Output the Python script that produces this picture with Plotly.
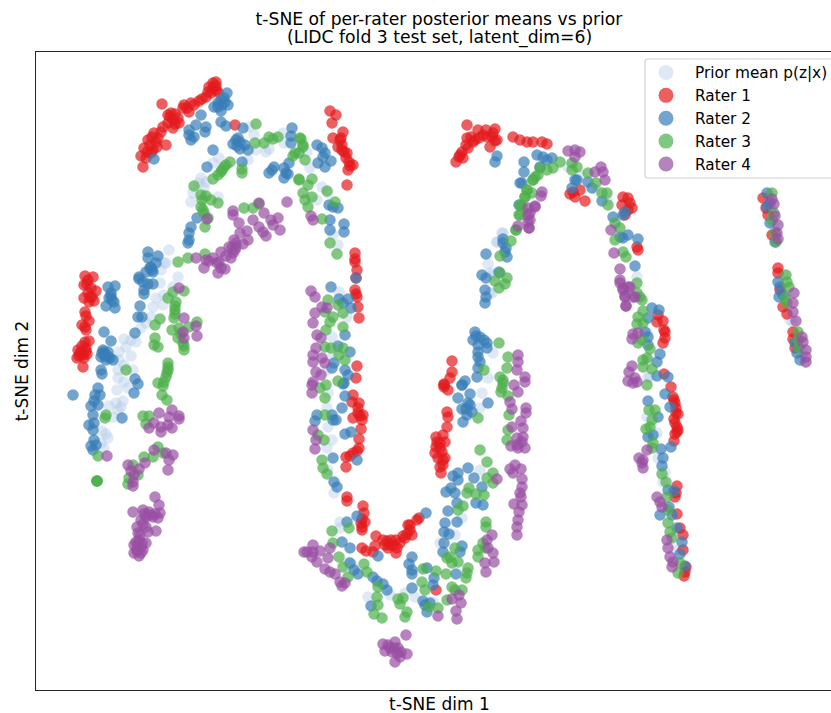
import plotly.graph_objects as go

# Values; the t-SNE axes carry no ticks, so the units are arbitrary.
prior = [(166,263),(161,270),(160,283),(178,277),(173,287),(164,295),(156,298),(153,307),(163,305),(151,317),(146,323),(141,328),(136,342),(131,340),(124,339),(126,347),(119,352),(131,356),(119,360),(124,365),(118,370),(133,370),(118,378),(124,382),(117,390),(128,388),(123,401),(116,403),(109,406),(121,407),(118,410),(113,417),(102,431),(108,438),(106,434),(104,448),(101,443),
(169,250),(164,263),(219,158),(213,163),(201,178),(206,182),(204,188),(193,193),(218,197),(191,202),(249,127),(254,135),(256,150),(266,152),(269,149),(248,160),(283,133),(284,143),(199,183),
(310,168),(307,152),(322,187),(317,200),(328,193),(333,235),(338,245),(339,292),(347,317),(332,337),(333,355),(327,370),(503,233),(497,242),(488,264),(492,293),(493,353),(488,378),(490,273),
(328,393),(327,408),(328,427),(332,440),(327,448),(328,470),(334,493),(340,522),(340,528),(348,562),(368,597),(390,595),(405,593),(415,597),(433,602),(482,393),(480,408),(480,470),(440,543),(455,535),(462,518),(352,565),(425,568),
(502,233),(497,242),(492,275),(490,293),(568,167),(580,175),(597,190),(607,200),(617,225),(637,277),(647,333),(648,360),(650,377),(648,377),(647,417),(657,433),(658,458),(665,472),(663,482),(675,550),
(768,196),(772,210),(774,225),(776,240),(784,275),(786,295),(790,320),(793,322),(797,335),(802,350),(805,362)]

rater1 = [(143,167),(141,156),(146,158),(151,153),(144,148),(153,150),(148,140),(156,142),(166,145),(154,133),(161,132),(158,138),(168,123),(173,120),(179,123),(173,128),(171,113),(178,118),(184,105),(189,112),(183,108),(194,105),(199,101),(206,97),(211,93),(216,90),(213,83),(216,82),(162,104),(235,125),(209,87),(218,92),
(150,145),(147,152),(157,147),(152,137),(163,127),(170,117),(175,124),(168,115),(175,114),(187,108),(191,103),(202,99),(208,92),(213,88),(216,86),
(85,276),(93,277),(88,280),(84,285),(91,288),(96,291),(88,293),(84,298),(94,301),(89,302),(85,312),(89,321),(82,325),(86,330),(85,342),(89,341),(78,350),(86,348),(83,355),(77,358),(84,358),(83,367),(81,352),
(87,284),(90,297),(92,297),(86,316),(85,327),(82,346),(80,354),(87,354),(79,356),(86,351),
(330,111),(336,115),(332,123),(333,138),(343,132),(340,140),(342,145),(338,147),(347,153),(349,162),(353,165),(348,170),(347,185),(355,253),(355,259),(357,270),(356,278),(355,290),(357,297),(358,307),(359,318),(357,366),(356,378),
(342,150),(344,152),(346,158),(350,166),(341,138),(355,262),(356,294),
(452,361),(452,372),(450,378),(444,384),(467,125),(478,130),(495,129),(467,138),(475,140),(483,135),(492,137),(497,140),(490,147),(468,148),(462,152),(463,158),(456,162),(460,155),
(471,137),(479,138),(487,137),(493,133),(466,145),(459,157),(486,130),(495,141),(473,142),(444,387),
(513,137),(520,140),(527,142),(533,142),(542,142),(547,144),(570,194),(575,197),(580,190),(585,201),(573,192),(623,197),(628,198),(630,203),(632,208),(622,205),(628,210),(625,215),(637,247),(638,250),
(658,315),(657,322),(663,321),(664,330),(665,332),(665,338),(663,343),(664,374),(671,387),(673,397),(675,403),(676,413),(678,414),(674,419),(677,427),(677,432),(675,434),(674,441),(677,486),(676,493),(675,497),(677,514),(680,528),(683,535),(683,550),(686,567),(685,572),(684,576),
(676,408),(675,423),(674,400),(678,430),
(763,198),(766,208),(768,215),(772,235),(778,268),(778,273),(783,307),(787,314),(780,290),(793,332),(793,339),(795,348),
(353,395),(352,402),(359,403),(358,413),(363,415),(353,418),(362,420),(361,429),(359,439),(359,448),(353,453),(346,457),(346,467),(347,497),(347,501),(363,506),(364,513),(365,522),(362,527),(362,530),
(358,408),(360,416),(357,451),(350,456),(362,519),(361,523),
(376,536),(383,540),(390,545),(396,540),(400,543),(405,538),(410,530),(412,535),(419,518),(375,546),(362,548),(366,551),(373,552),(396,553),(388,548),(408,525),(436,590),
(385,545),(393,545),(403,536),(407,534),(410,525),(387,541),(391,540),(397,548),(417,520),
(444,385),(448,390),(447,412),(448,417),(447,427),(436,437),(443,435),(445,442),(440,448),(435,453),(438,458),(445,458),(440,467),(443,465),(441,473),
(437,442),(440,443),(442,452),(436,447),(443,460)]

rater2 = [(154,159),(227,93),(221,100),(228,105),(214,107),(221,111),(218,103),(224,98),(201,115),(196,125),(206,127),(205,132),(189,130),(191,140),(194,137),(189,135),(221,122),(226,126),(243,128),(238,138),(233,144),(240,149),(245,145),(248,150),(236,140),(213,150),(207,167),(242,162),
(222,105),(218,107),(225,102),(240,142),(237,146),
(274,167),(269,173),(272,170),(284,168),(289,163),(288,174),(284,178),(286,173),(292,128),(291,136),(291,143),(197,218),(191,227),(189,233),(189,240),(188,243),(148,252),(148,258),(158,256),(156,263),(151,267),(153,272),(146,272),(139,277),
(108,287),(115,286),(111,293),(109,298),(114,302),(106,306),(115,308),(139,279),(143,282),(148,284),(153,284),(144,290),(144,294),(140,306),(138,317),(142,317),(135,333),(104,332),(111,341),(103,350),(104,355),(106,360),(113,360),(101,357),(108,357),(101,370),(102,374),(135,379),(138,384),(134,393),(73,395),
(104,352),(108,352),(102,353),(106,355),(110,358),(111,296),(112,300),(150,268),(152,270),
(98,388),(95,395),(100,395),(94,401),(98,405),(91,406),(93,415),(94,423),(89,425),(93,430),(94,440),(91,446),(96,445),(93,450),(122,418),
(317,145),(322,148),(325,153),(318,163),(331,161),(325,167),(323,157),(329,205),(333,207),(338,208),(330,220),(330,230),(344,224),(344,232),(331,287),(339,299),(348,299),(343,303),(351,308),(345,335),(338,346),(350,352),(334,363),(332,368),(345,370),(348,375),(344,383),(356,278),
(497,156),(495,162),(486,254),(503,239),(505,252),(507,257),(482,275),(486,278),(499,272),(485,290),(486,297),(485,303),(475,332),(473,340),(480,337),(487,343),(487,348),(478,357),(478,368),(477,377),(465,381),(462,385),
(476,336),(478,345),(480,362),(478,352),(484,340),(503,243),(506,248),
(343,384),(345,396),(342,408),(317,415),(315,421),(332,415),(333,420),(336,420),(345,434),(351,432),(333,458),(357,460),(334,482),(337,487),(357,516),(347,522),(342,542),(350,548),(350,563),(354,570),(358,574),(378,556),(373,577),(377,581),(383,584),(387,590),(371,606),(426,513),
(412,557),(409,564),(412,570),(412,574),(427,568),(434,578),(433,585),(412,588),(423,601),(425,605),(427,612),(430,603),(456,574),(462,385),(458,398),(470,394),(488,403),(470,405),(462,409),(472,412),(467,415),(463,422),(468,403),(466,409),
(468,468),(458,473),(453,476),(458,480),(474,478),(451,488),(446,492),(455,493),(457,503),(448,511),(457,522),(445,523),(444,532),(449,534),(444,543),(462,546),(443,552),(460,552),(482,487),(476,503),(483,505),
(537,155),(543,157),(552,158),(547,160),(524,162),(524,172),(520,183),(522,183),(519,205),(540,167),(577,180),(575,180),(588,182),(592,188),(572,188),(602,201),(613,217),(623,215),(625,212),(620,237),(628,235),(623,238),(638,239),(635,266),
(652,308),(659,310),(648,318),(645,332),(648,337),(648,345),(660,354),(657,362),(657,376),(668,377),(665,394),(670,407),(648,401),(658,417),(648,437),(653,435),(671,447),(661,449),(663,458),(662,466),(668,490),(674,491),(669,507),(660,515),(672,515),(677,528),(682,542),(680,554),(685,566),
(767,193),(767,207),(770,223),(775,242),(770,203),(778,282),(780,287),(779,297),(783,295),(795,343),(797,353),(800,360)]

rater3 = [(256,124),(255,143),(264,143),(269,137),(273,139),(278,137),(230,162),(224,167),(221,172),(218,175),(213,179),(242,169),(242,173),(194,186),(201,195),(206,196),(211,200),(218,203),(201,207),(204,213),(208,218),(205,227),(244,208),(253,208),(259,204),(299,180),(293,156),(299,153),(301,139),(303,147),(178,262),(188,258),(205,254),
(226,165),(222,170),(202,200),(203,210),
(184,291),(173,292),(168,298),(176,302),(175,310),(174,318),(160,319),(155,325),(172,330),(179,328),(189,327),(197,322),(178,338),(184,346),(184,350),(155,338),(154,345),(158,347),(168,363),(168,370),(166,377),(158,383),(163,386),(162,395),(167,400),(126,370),(106,415),(105,418),(143,416),(149,416),(146,424),(98,456),(97,481),(158,447),(153,457),(144,457),(163,453),(133,465),(138,475),(129,478),(128,484),
(175,306),(175,314),(168,367),(167,373),(164,382),(97,481),(97,481),(181,334),(183,343),
(300,138),(303,145),(295,153),(305,160),(299,179),(312,179),(308,185),(303,193),(312,197),(305,200),(308,207),(322,219),(327,191),(335,202),(330,243),(337,254),(328,300),(338,305),(325,312),(333,317),(343,313),(330,322),(343,327),(326,330),(325,347),(331,348),(343,348),(339,355),(345,360),(338,381),(326,385),(320,388),
(499,343),(484,370),(508,357),(507,368),(500,377),(503,380),(502,388),(511,241),(500,256),(495,281),(500,273),(507,278),(505,284),(499,288),(527,190),(525,197),(520,205),(533,180),(538,175),(520,215),(516,230),
(325,398),(325,415),(318,435),(324,440),(322,460),(323,468),(327,474),(332,531),(349,528),(333,543),(339,557),(343,567),(348,577),(364,564),(367,572),(378,587),(377,597),(378,605),(374,614),(382,618),(398,599),(403,598),(400,604),(407,612),(405,617),(423,569),(436,571),(422,582),(425,590),(429,607),(438,608),(446,574),(447,600),(452,587),(455,590),(462,590),(468,568),(467,573),(466,578),(450,557),(452,563),(458,562),(455,548),(447,558),
(480,450),(487,462),(493,473),(487,478),(493,483),(469,488),(467,493),(476,494),(484,495),(463,506),(458,510),(478,418),(501,392),(508,396),(509,415),(508,430),(507,440),(503,383),(486,522),(486,527),(483,543),(478,550),(478,557),(485,548),
(560,162),(553,168),(540,168),(547,170),(535,177),(533,180),(572,163),(577,167),(572,170),(588,173),(596,183),(602,193),(607,193),(608,205),(527,190),(525,197),(532,193),(522,206),(519,215),(516,230),(615,223),(620,228),(615,240),(623,252),(626,257),(637,283),(637,293),(640,297),(642,300),
(643,311),(638,317),(643,323),(637,324),(642,340),(638,343),(650,349),(643,360),(647,358),(643,367),(652,369),(647,385),(649,410),(655,410),(652,420),(650,427),(646,429),(653,443),(652,448),(662,474),(666,482),(667,497),(668,510),(668,523),(670,532),(672,538),(680,563),(678,573),
(772,193),(774,213),(772,220),(775,233),(776,242),(786,275),(787,282),(789,287),(785,298),(787,303),(798,332),(798,340),(799,348)]

rater4 = [(287,202),(259,203),(233,211),(233,215),(239,223),(253,220),(264,213),(278,218),(271,220),(273,225),(259,227),(263,232),(266,236),(280,230),(247,231),(207,219),(240,233),(234,240),(248,240),(236,247),(229,247),(243,244),(233,253),(221,252),(231,258),(213,258),(219,262),(209,261),(196,258),(204,268),(218,273),(225,269),(221,268),(206,260),
(236,243),(232,248),(226,256),(217,263),(235,250),
(179,288),(184,318),(196,326),(183,332),(184,338),(197,336),(159,413),(172,410),(179,416),(179,419),(169,417),(154,423),(149,428),(161,427),(161,432),(168,425),(172,428),(107,456),(154,450),(166,453),(173,455),(169,460),(168,470),(128,465),(145,463),(139,469),(131,471),(134,475),(133,482),(133,486),
(155,497),(159,505),(160,513),(133,512),(143,510),(149,512),(146,517),(153,517),(141,520),(158,518),(137,527),(146,527),(156,531),(138,533),(148,532),(139,540),(146,543),(134,545),(141,547),(134,553),(139,556),(143,550),(304,552),
(144,514),(150,515),(155,514),(143,524),(140,535),(142,543),(138,545),(137,551),(141,553),(137,549),(136,542),
(311,216),(313,220),(311,291),(315,297),(322,307),(327,308),(315,313),(313,323),(317,335),(321,338),(316,348),(313,355),(313,362),(322,358),(325,363),(316,372),(321,375),(312,385),(518,355),(518,362),(517,370),(525,377),(525,382),(514,385),(530,213),(535,207),(518,226),(529,228),(528,222),
(312,393),(313,382),(313,430),(316,440),(315,449),(313,545),(307,552),(313,552),(320,551),(312,557),(317,562),(330,548),(328,558),(325,569),(330,572),(335,574),(340,582),(345,583),(342,586),
(406,635),(383,644),(388,645),(395,642),(385,651),(392,652),(398,648),(407,654),(400,657),(395,662),(390,648),(394,648),(397,653),(401,652),(497,479),(492,535),(487,540),(488,548),(493,553),(494,562),(485,563),(486,572),(459,595),(452,599),(461,603),(456,611),(457,619),(438,616),
(518,392),(510,402),(512,409),(526,408),(526,413),(521,421),(512,427),(523,428),(523,437),(517,438),(522,442),(511,446),(517,445),(525,448),(518,448),(510,469),(515,465),(521,469),(513,473),(522,479),(522,487),(520,493),(521,497),(514,504),(522,505),(519,512),(518,520),(517,527),(517,535),
(568,151),(575,150),(580,152),(575,157),(595,172),(601,167),(603,172),(605,180),(542,192),(541,196),(535,206),(528,208),(528,215),(530,220),(529,228),(611,230),(614,253),(620,269),(620,280),(623,288),(630,287),(625,297),(635,297),(626,306),
(620,283),(623,290),(628,287),(625,296),(633,297),(626,306),(633,334),(638,333),(632,339),(632,366),(629,372),(635,378),(628,381),(633,383),(637,382),(647,450),(639,458),(643,460),(642,463),(643,468),(657,497),(660,502),(662,507),(667,540),(668,548),(670,557),(673,562),(672,567),
(772,199),(774,204),(775,216),(778,225),(777,233),(778,239),(794,293),(793,303),(793,312),(796,321),(802,337),(803,342),(806,350),(806,357),(806,362)]

series_names = ["Prior mean p(z|x)", "Rater 1", "Rater 2", "Rater 3", "Rater 4"]
series_points = [prior, rater1, rater2, rater3, rater4]
series_colors = ["rgba(174,199,232,0.4)", "rgba(228,26,28,0.7)", "rgba(55,126,184,0.7)",
                 "rgba(77,175,74,0.7)", "rgba(152,78,163,0.7)"]
title_line_1 = "t-SNE of per-rater posterior means vs prior"
title_line_2 = "(LIDC fold 3 test set, latent_dim=6)"

FONT = "DejaVu Sans"
W, H = 831, 713
L, R, T, B = 36, 831, 52, 690
TITLE_SIZE = 17.2
LABEL_SIZE = 17


def px(x):
    return (x - L) / (R - L)


def py(y):
    return (B - y) / (B - T)


fig = go.Figure()
for name, pts, col in zip(series_names, series_points, series_colors):
    fig.add_trace(go.Scatter(x=[p[0] for p in pts], y=[p[1] for p in pts], mode="markers", name=name,
                             showlegend=False, cliponaxis=True,
                             marker=dict(size=11.5, color=col, line=dict(width=0))))
for name, col in zip(series_names, series_colors):
    fig.add_trace(go.Scatter(x=[None], y=[None], mode="markers", name=name, showlegend=True,
                             marker=dict(size=15, color=col, line=dict(width=0))))

axis_common = dict(showgrid=False, zeroline=False, showticklabels=False, ticks="", showline=True,
                   linecolor="#262626", linewidth=1.4)
# Rounded legend frame, open to the right edge of the page as in the reference.
fl, ft, fb, fr, dx, dy = px(645), py(59), py(178), px(860), 3 / (R - L), 3 / (B - T)
frame = (f"M {fl + dx} {ft} L {fr} {ft} L {fr} {fb} L {fl + dx} {fb} "
         f"Q {fl} {fb} {fl} {fb + dy} L {fl} {ft - dy} Q {fl} {ft} {fl + dx} {ft} Z")

fig.update_layout(
    width=W, height=H, autosize=False, paper_bgcolor="white", plot_bgcolor="white",
    margin=dict(l=L, r=W - R, t=T, b=H - B, autoexpand=False),
    font=dict(family=FONT, size=LABEL_SIZE, color="#000000"),
    xaxis=dict(range=[L, R], mirror=True, **axis_common),
    yaxis=dict(range=[B, T], mirror=False, title=dict(text="t-SNE dim 2", standoff=1, font=dict(size=LABEL_SIZE)),
               **axis_common),
    title=dict(text=title_line_1, x=439 / W, xref="container", xanchor="center",
               y=1 - 18.5 / H, yanchor="middle", font=dict(size=TITLE_SIZE)),
    shapes=[dict(type="path", path=frame, xref="paper", yref="paper", layer="above",
                 fillcolor="rgba(255,255,255,0.8)", line=dict(color="#d0d0d0", width=1.2))],
    legend=dict(x=px(637), xanchor="left", y=py(56), yanchor="top",
                bgcolor="rgba(255,255,255,0)", borderwidth=0,
                itemwidth=48, entrywidth=200, entrywidthmode="pixels", font=dict(size=15.3),
                itemclick=False, itemdoubleclick=False),
    annotations=[
        dict(text="t-SNE dim 1", x=439, xref="x", y=py(704), yref="paper", showarrow=False,
             xanchor="center", yanchor="middle", font=dict(size=LABEL_SIZE)),
        dict(text=title_line_2, x=439, xref="x", y=py(37), yref="paper", showarrow=False,
             xanchor="center", yanchor="middle", font=dict(size=TITLE_SIZE)),
    ],
)
fig.write_html("out.html", config=dict(displayModeBar=False),
               post_script="document.body.style.margin='0';document.documentElement.style.overflow='hidden';")
